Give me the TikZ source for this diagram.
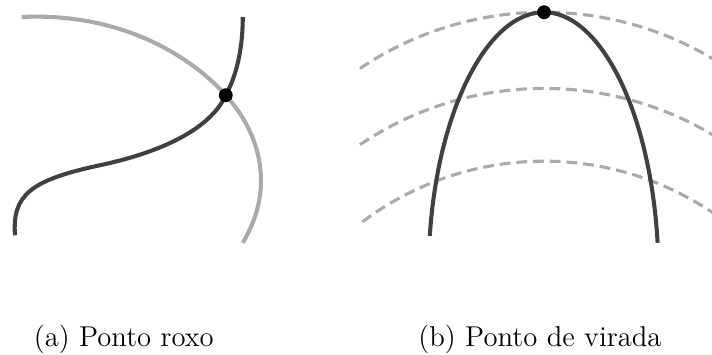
\documentclass[tikz,border=0pt]{standalone}
\usepackage{tikz}
\usetikzlibrary{calc}
\definecolor{curvedark}{HTML}{404040}
\definecolor{curvelight}{HTML}{AAAAAA}

\begin{document}
\begin{tikzpicture}[
    darkcurve/.style={curvedark, line width=1.7pt},
    lightcurve/.style={curvelight, line width=1.7pt},
    levelcurve/.style={curvelight, line width=1.3pt, dash pattern=on 4.5pt off 2.5pt},
    blackdot/.style={fill=black, circle, inner sep=0pt, minimum size=5.8pt},
    caption/.style={font=\fontsize{12}{14}\selectfont, anchor=base},
]

% frame of the figure (also cuts the level curves at the right edge)
\clip (0,0) rectangle (10.47,5.22);

% =============================================
% (a) two curves crossing at one point
% =============================================
\coordinate (roxo) at (3.32,3.82);

% light curve
\draw[lightcurve] (0.32,4.97)
    .. controls (1.76,5.04) and (2.79,4.41) .. (roxo)
    .. controls (3.85,3.23) and (4.04,2.43) .. (3.57,1.65);

% dark curve
\draw[darkcurve] (3.57,4.97)
    .. controls (3.57,4.41) and (3.44,4.04) .. (roxo)
    .. controls (3.12,3.38) and (2.50,3.01) .. (1.47,2.79)
    .. controls (0.44,2.57) and (0.18,2.35) .. (0.22,1.76);

\node[blackdot] (roxodot) at (roxo) {};

\node[caption] (capa) at (1.82,0.13) {(a) Ponto roxo};

% =============================================
% (b) curve touching a level curve at its top
% =============================================
\coordinate (virada) at (8.00,5.04);

% level curves
\draw[levelcurve] (8.00,0.20) ++(124:4.84) arc[start angle=124, end angle=56, radius=4.84];
\draw[levelcurve] (8.00,-0.92) ++(124:4.84) arc[start angle=124, end angle=56, radius=4.84];
\draw[levelcurve] (8.00,-1.59) ++(127:4.44) arc[start angle=127, end angle=53, radius=4.44];

% dark curve
\draw[darkcurve] (6.32,1.75)
    .. controls (6.44,3.60) and (7.17,5.04) .. (virada)
    .. controls (8.82,5.04) and (9.56,3.60) .. (9.67,1.65);

\node[blackdot] (viradadot) at (virada) {};

\node[caption] (capb) at (7.94,0.13) {(b) Ponto de virada};

\end{tikzpicture}
\end{document}
